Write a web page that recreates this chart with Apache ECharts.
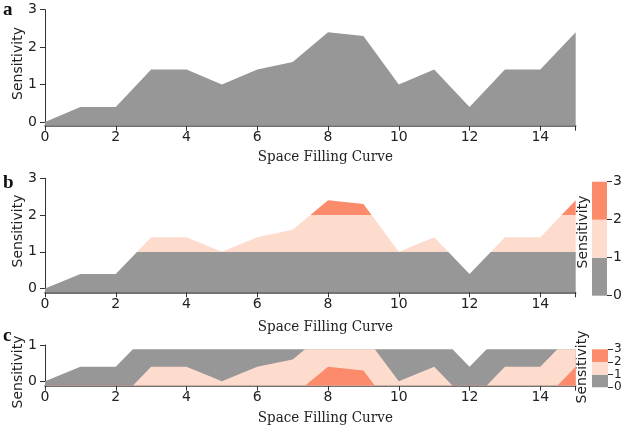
<!DOCTYPE html>
<html><head><meta charset="utf-8">
<script src="https://cdn.jsdelivr.net/npm/echarts@6/dist/echarts.min.js"></script>
<style>html,body{margin:0;padding:0;background:#fff}#c{width:626px;height:432px}</style>
</head><body><div id="c"></div>
<script>
// ---- data ----
const xValues = [0,1,2,3,4,5,6,7,8,9,10,11,12,13,14,15];
const sensitivity = [0,0.4,0.4,1.4,1.4,1.0,1.4,1.6,2.4,2.3,1.0,1.4,0.4,1.4,1.4,2.4];
const xTickValues = [0,2,4,6,8,10,12,14,15];
const xLabelValues = [0,2,4,6,8,10,12,14];
const yTicksFull = [0,1,2,3];
const yTicksHorizon = [0,1];
const bandEdges = [0,1,2,3];
const bandColors = ['#979797','#fddccd','#fb8b6b'];
const panelLabels = ['a','b','c'];
const xTitle = 'Space Filling Curve';
const yTitle = 'Sensitivity';

const SANS = "'DejaVu Sans', sans-serif";
const SERIF = "'DejaVu Serif Condensed', 'DejaVu Serif', serif";
const TXT = '#222';

const pts = xValues.map((x,i)=>[x, sensitivity[i]]);
const bandPts = k => xValues.map((x,i)=>[x, sensitivity[i] - bandEdges[k]]);

function xAxisVisible(grid, gap){
  return {
    type:'value', gridIndex:grid, min:0, max:15,
    axisLine:{show:true, onZero:false, lineStyle:{color:'#444', width:1.5}},
    axisTick:{show:true, customValues:xTickValues, length:5, lineStyle:{color:'#333'}},
    axisLabel:{customValues:xLabelValues, fontSize:14, fontFamily:SANS, color:TXT, margin:5},
    splitLine:{show:false},
    name:xTitle, nameLocation:'middle', nameGap:gap,
    nameTextStyle:{fontFamily:SERIF, fontSize:15, color:TXT, padding:[0,0,0,30]}
  };
}
function yAxisVisible(grid, min, max, ticks){
  return {
    type:'value', gridIndex:grid, min:min, max:max,
    axisLine:{show:true, onZero:false, lineStyle:{color:'#333', width:1}},
    axisTick:{show:true, customValues:ticks, length:5, lineStyle:{color:'#333'}},
    axisLabel:{customValues:ticks, fontSize:14, fontFamily:SANS, color:TXT, margin:8},
    splitLine:{show:false}
  };
}
function legendY(grid, fs){
  return {
    type:'value', gridIndex:grid, min:bandEdges[0], max:bandEdges[bandEdges.length-1], position:'right',
    axisLine:{show:false},
    axisTick:{show:true, customValues:bandEdges, length:5, lineStyle:{color:'#333'}},
    axisLabel:{customValues:bandEdges, fontSize:fs, fontFamily:SANS, color:TXT, margin:6,
               showMinLabel:true, showMaxLabel:true, hideOverlap:false},
    splitLine:{show:false}
  };
}
const hiddenX = g => ({type:'value', gridIndex:g, min:0, max:15, show:false});
const legendX = g => ({type:'category', gridIndex:g, data:['s'], show:false});

const areaSeries = (xi, yi, data, color, extra) => Object.assign({
  type:'line', xAxisIndex:xi, yAxisIndex:yi, data:data, showSymbol:false, symbol:'none',
  lineStyle:{width:0}, areaStyle:{color:color, opacity:1, origin:'start'},
  clip:true, silent:true, animation:false
}, extra||{});

const legendBars = (xi, yi) => bandColors.map((c,k)=>({
  type:'bar', xAxisIndex:xi, yAxisIndex:yi, stack:'leg'+xi, barWidth:'100%',
  data:[bandEdges[k+1]-bandEdges[k]], itemStyle:{color:c}, silent:true, animation:false
}));

const gridCommon = {outerBoundsMode:'none', containLabel:false};
const option = {
  animation:false,
  grid:[
    Object.assign({left:45, top:9.7, width:530.7, height:116}, gridCommon),        // a
    Object.assign({left:45, top:178.3, width:530.7, height:114}, gridCommon),      // b
    Object.assign({left:592, top:181.7, width:15, height:114}, gridCommon),        // b legend
    Object.assign({left:45, top:345, width:530.7, height:40.7}, gridCommon),       // c axes
    Object.assign({left:45, top:349.3, width:530.7, height:36.4}, gridCommon),     // c layers
    Object.assign({left:592, top:349.3, width:16, height:38}, gridCommon)          // c legend
  ],
  xAxis:[
    xAxisVisible(0, 24),
    xAxisVisible(1, 27),
    legendX(2),
    xAxisVisible(3, 25),
    hiddenX(4),
    legendX(5)
  ],
  yAxis:[
    yAxisVisible(0, -0.1, 3, yTicksFull),
    yAxisVisible(1, -0.1, 3, yTicksFull),
    legendY(2, 14),
    yAxisVisible(3, -0.12, 1, yTicksHorizon),
    {type:'value', gridIndex:4, min:-0.12, max:0.88, show:false},
    legendY(5, 12)
  ],
  visualMap:[{
    type:'piecewise', show:false, dimension:1, seriesIndex:1,
    pieces:[
      {lt:bandEdges[1], color:bandColors[0]},
      {gte:bandEdges[1], lt:bandEdges[2], color:bandColors[1]},
      {gte:bandEdges[2], color:bandColors[2]}
    ]
  }],
  series:[
    areaSeries(0,0,pts,bandColors[0]),
    areaSeries(1,1,pts,undefined),
    ...legendBars(2,2),
    areaSeries(4,4,bandPts(0),bandColors[0]),
    areaSeries(4,4,bandPts(1),bandColors[1]),
    areaSeries(4,4,bandPts(2),bandColors[2]),
    ...legendBars(5,5)
  ],
  graphic:[
    {type:'text', x:3, y:10, style:{text:panelLabels[0], font:"bold 19px 'Liberation Serif', serif", fill:'#111', verticalAlign:'middle'}},
    {type:'text', x:3, y:183, style:{text:panelLabels[1], font:"bold 19px 'Liberation Serif', serif", fill:'#111', verticalAlign:'middle'}},
    {type:'text', x:3, y:336, style:{text:panelLabels[2], font:"bold 19px 'Liberation Serif', serif", fill:'#111', verticalAlign:'middle'}},
    {type:'text', x:18, y:63.5, rotation:Math.PI/2, style:{text:yTitle, font:"14px 'DejaVu Sans', sans-serif", fill:TXT, align:'center', verticalAlign:'middle'}},
    {type:'text', x:18, y:231, rotation:Math.PI/2, style:{text:yTitle, font:"14px 'DejaVu Sans', sans-serif", fill:TXT, align:'center', verticalAlign:'middle'}},
    {type:'text', x:18, y:372, rotation:Math.PI/2, style:{text:yTitle, font:"14px 'DejaVu Sans', sans-serif", fill:TXT, align:'center', verticalAlign:'middle'}},
    {type:'text', x:583, y:232, rotation:Math.PI/2, style:{text:yTitle, font:"14px 'DejaVu Sans', sans-serif", fill:TXT, align:'center', verticalAlign:'middle'}},
    {type:'text', x:582, y:367, rotation:Math.PI/2, style:{text:yTitle, font:"14px 'DejaVu Sans', sans-serif", fill:TXT, align:'center', verticalAlign:'middle'}}
  ]
};
const chart = echarts.init(document.getElementById('c'), null, {renderer:'canvas'});
chart.setOption(option);
</script>
</body></html>
